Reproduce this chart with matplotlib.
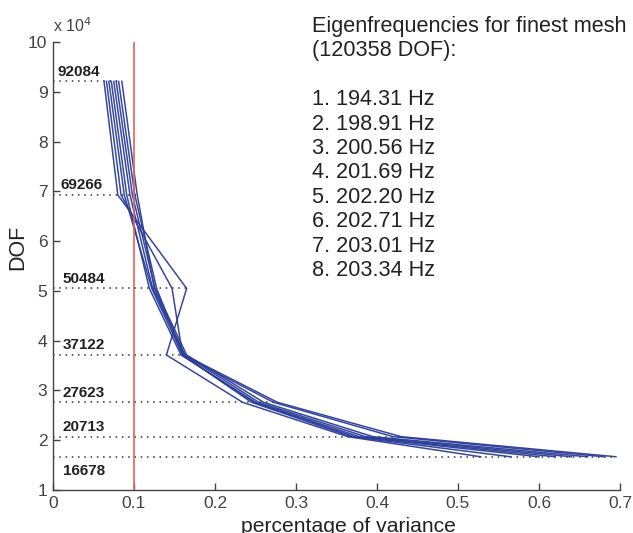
import matplotlib
matplotlib.use("Agg")
import matplotlib.pyplot as plt
import numpy as np

plt.rcParams['font.family'] = ['Liberation Sans', 'DejaVu Sans']

# DOF levels (mesh refinements), descending
dof_levels = [92084, 69266, 50484, 37122, 27623, 20713, 16678]

# percentage of variance for each of 8 eigenfrequencies at each DOF level
mode1 = [0.063, 0.080, 0.165, 0.140, 0.234, 0.364, 0.528]
mode2 = [0.066, 0.084, 0.147, 0.160, 0.245, 0.368, 0.565]
mode3 = [0.069, 0.088, 0.122, 0.160, 0.248, 0.372, 0.600]
mode4 = [0.072, 0.091, 0.119, 0.158, 0.250, 0.378, 0.620]
mode5 = [0.075, 0.095, 0.123, 0.163, 0.254, 0.386, 0.640]
mode6 = [0.078, 0.098, 0.126, 0.165, 0.260, 0.395, 0.660]
mode7 = [0.081, 0.101, 0.128, 0.160, 0.272, 0.420, 0.680]
mode8 = [0.085, 0.104, 0.125, 0.162, 0.277, 0.430, 0.695]
modes = [mode1, mode2, mode3, mode4, mode5, mode6, mode7, mode8]

threshold = 0.1

finest_dof = 120358
eigenfreqs = [194.31, 198.91, 200.56, 201.69, 202.20, 202.71, 203.01, 203.34]

x_ticks = [0, 0.1, 0.2, 0.3, 0.4, 0.5, 0.6, 0.7]
x_ticklabels = ["0", "0.1", "0.2", "0.3", "0.4", "0.5", "0.6", "0.7"]
y_ticks = [10000 * k for k in range(1, 11)]
y_ticklabels = [str(k) for k in range(1, 11)]

W, H = 633, 533
fig = plt.figure(figsize=(W / 100, H / 100), dpi=100)
ax = fig.add_axes([53 / W, 1 - 490 / H, 567 / W, 448 / H])

# dotted guide lines from the axis to the largest variance at each level
max_at_level = np.max(np.array(modes), axis=0)
for d, xe in zip(dof_levels, max_at_level):
    ax.plot([0, xe], [d, d], color='#333333', lw=1.1, ls=(0, (1, 3.1)), zorder=1)

line_color = '#2b3f99'
for m in modes:
    ax.plot(m, dof_levels, color=line_color, lw=1.1, alpha=0.95, zorder=2)

ax.axvline(threshold, color='#e8605a', lw=1.2, zorder=3)

label_dx = [0.005, 0.009, 0.012, 0.012, 0.012, 0.012, 0.012]
for i, d in enumerate(dof_levels):
    if i == len(dof_levels) - 1:
        ax.annotate(str(d), (label_dx[i], d), xytext=(0, -5), textcoords='offset points',
                    fontsize=11, fontweight='bold', color='#222222', va='top', ha='left')
    else:
        ax.annotate(str(d), (label_dx[i], d), xytext=(0, 4), textcoords='offset points',
                    fontsize=11, fontweight='bold', color='#222222', va='baseline', ha='left')

ax.set_xlim(0, 0.7)
ax.set_ylim(10000, 100000)
ax.set_xticks(x_ticks)
ax.set_xticklabels(x_ticklabels)
ax.set_yticks(y_ticks)
ax.set_yticklabels(y_ticklabels)
ax.tick_params(direction='in', length=5, width=1, colors='#444444', labelsize=12.5, pad=4)
for s in ['top', 'right']:
    ax.spines[s].set_visible(False)
for s in ['left', 'bottom']:
    ax.spines[s].set_color('#444444')
    ax.spines[s].set_linewidth(1.0)

ax.set_ylabel('DOF', fontsize=15.5, color='#222222')
ax.yaxis.set_label_coords((28 - 53) / 567, (490 - 247) / 448)
ax.set_xlabel('percentage of variance', fontsize=15.2, color='#222222')
ax.xaxis.set_label_coords((348 - 53) / 567, (490 - 517) / 448)

fig.text(53 / W, 1 - 32 / H, r'x 10$^{4}$', fontsize=11.5, color='#444444',
         ha='left', va='baseline')

lines = ["Eigenfrequencies for finest mesh", f"({finest_dof} DOF):", ""]
lines += [f"{i + 1}. {f:.2f} Hz" for i, f in enumerate(eigenfreqs)]
for i, t in enumerate(lines):
    if t:
        fig.text(312 / W, 1 - (32 + 24.4 * i) / H, t, fontsize=15.6, color='#222222',
                 ha='left', va='baseline')

fig.savefig('out.png', dpi=100)
